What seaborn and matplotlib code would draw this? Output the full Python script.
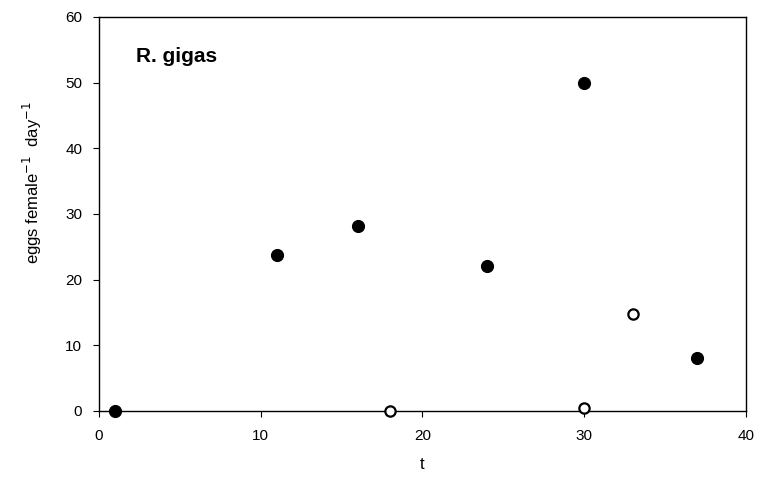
import matplotlib
matplotlib.use("Agg")
import matplotlib.pyplot as plt
import seaborn as sns
import pandas as pd

# filled circles
t_filled = [1, 11, 16, 24, 30, 37]
eggs_filled = [0, 23.8, 28.1, 22.1, 50.0, 8.1]
# open circles
t_open = [18, 30, 33]
eggs_open = [0, 0.5, 14.7]

x_ticks = [0, 10, 20, 30, 40]
y_ticks = [0, 10, 20, 30, 40, 50, 60]

sns.set_style("ticks")
plt.rcParams['font.family'] = ['Liberation Sans', 'DejaVu Sans']
plt.rcParams['text.color'] = 'black'
plt.rcParams['axes.labelcolor'] = 'black'

df_f = pd.DataFrame({"t": t_filled, "eggs": eggs_filled})
df_o = pd.DataFrame({"t": t_open, "eggs": eggs_open})

fig = plt.figure(figsize=(7.61, 4.84), dpi=100)
ax = fig.add_axes([0.130, 0.151, 0.850, 0.814])

sns.scatterplot(data=df_f, x="t", y="eggs", ax=ax, s=75, color="black",
                edgecolor="black", linewidth=0.8, zorder=3, clip_on=False)
sns.scatterplot(data=df_o, x="t", y="eggs", ax=ax, s=55, facecolor="white",
                edgecolor="black", linewidth=1.6, zorder=3, clip_on=False)

ax.set_xlim(0, 40)
ax.set_ylim(0, 60)
ax.set_xticks(x_ticks)
ax.set_yticks(y_ticks)
ax.tick_params(axis="both", direction="out", length=4, width=0.8,
               labelsize=11, colors="black")
ax.tick_params(axis="x", pad=9)
ax.tick_params(axis="y", pad=8)
for sp in ax.spines.values():
    sp.set_visible(True)
    sp.set_linewidth(1.0)
    sp.set_color("black")

ax.set_xlabel("t", fontsize=12, labelpad=10)
ax.set_ylabel("eggs female$^{-1}$  day$^{-1}$", fontsize=12)
ax.yaxis.set_label_coords(-0.085, 0.58)
ax.text(0.057, 0.90, "R. gigas", transform=ax.transAxes, fontsize=15,
        fontweight="bold", ha="left", va="center", color="black")

fig.savefig("out.png", dpi=100)
